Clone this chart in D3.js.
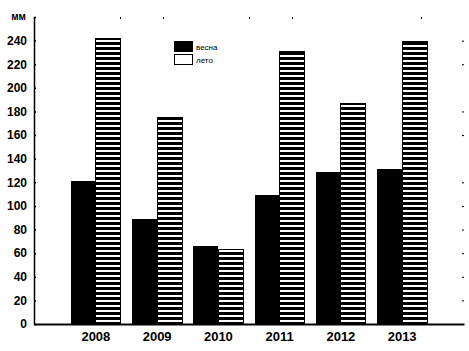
<!DOCTYPE html>
<html>
<head>
<meta charset="utf-8">
<script src="https://cdn.jsdelivr.net/npm/d3@7"></script>
<style>
    body { margin: 0; background: #fff; }
    svg { display: block; font-family: "Liberation Sans", Arial, sans-serif; }
    .axis text { font-weight: bold; fill: #000; }
</style>
</head>
<body>
<svg id="chart"></svg>
<script>
// chart data
const years = ['2008', '2009', '2010', '2011', '2012', '2013'];
const spring = [121, 89, 66, 109, 129, 131];   // весна
const summer = [242, 175, 63, 231, 187, 239];  // лето
const seriesNames = ['весна', 'лето'];
const yTicks = [0, 20, 40, 60, 80, 100, 120, 140, 160, 180, 200, 220, 240];
const yUnit = 'мм';

const config = {
    containerWidth: 469,
    containerHeight: 351,
    margin: {top: 17, right: 5, bottom: 27, left: 34}
};

const width = config.containerWidth - config.margin.left - config.margin.right;
const height = config.containerHeight - config.margin.top - config.margin.bottom;

const svg = d3.select('#chart')
    .attr('width', config.containerWidth)
    .attr('height', config.containerHeight);

// horizontal stripe pattern for the summer bars
const defs = svg.append('defs');
const pat = defs.append('pattern')
    .attr('id', 'stripes')
    .attr('patternUnits', 'userSpaceOnUse')
    .attr('width', 5)
    .attr('height', 5);
pat.append('rect').attr('width', 5).attr('height', 5).attr('fill', '#fff');
pat.append('rect').attr('width', 5).attr('height', 3).attr('fill', '#000');

const chart = svg.append('g')
    .attr('transform', `translate(${config.margin.left},${config.margin.top})`);

// scales
const xScale = d3.scaleBand()
    .domain(years)
    .range([0, width])
    .paddingInner(0.18)
    .paddingOuter(0.6);

const xSub = d3.scaleBand()
    .domain(seriesNames)
    .range([0, xScale.bandwidth()]);

const yScale = d3.scaleLinear()
    .domain([0, 260])
    .range([height, 0]);

const data = years.map((y, i) => ({year: y, values: [spring[i], summer[i]]}));

// bars
const groups = chart.selectAll('.group')
    .data(data)
    .join('g')
    .attr('class', 'group')
    .attr('transform', d => `translate(${xScale(d.year)},0)`);

groups.selectAll('rect')
    .data(d => d.values.map((v, j) => ({key: seriesNames[j], value: v})))
    .join('rect')
    .attr('x', d => xSub(d.key))
    .attr('y', d => yScale(d.value))
    .attr('width', xSub.bandwidth())
    .attr('height', d => height - yScale(d.value))
    .attr('fill', d => d.key === seriesNames[0] ? '#000' : 'url(#stripes)')
    .attr('stroke', d => d.key === seriesNames[0] ? 'none' : '#000')
    .attr('stroke-width', 1)
    .attr('shape-rendering', 'crispEdges');

// left axis
const yAxis = d3.axisLeft(yScale)
    .tickValues(yTicks)
    .tickSizeInner(-2)
    .tickSizeOuter(-2)
    .tickPadding(7);

const yAxisG = chart.append('g')
    .attr('class', 'axis y-axis')
    .call(yAxis);
yAxisG.selectAll('text').style('font-size', '12px');
yAxisG.selectAll('path, line').attr('stroke', '#000').attr('stroke-width', 1.5);

yAxisG.append('text')
    .attr('x', -8)
    .attr('y', 0)
    .attr('dy', '0.32em')
    .attr('text-anchor', 'end')
    .style('font-size', '10px')
    .text(yUnit);

// bottom axis
const xAxis = d3.axisBottom(xScale)
    .tickSize(0)
    .tickPadding(8);

const xAxisG = chart.append('g')
    .attr('class', 'axis x-axis')
    .attr('transform', `translate(0,${height})`)
    .call(xAxis);
xAxisG.selectAll('text').style('font-size', '13px');
xAxisG.select('.domain').attr('stroke', '#000').attr('stroke-width', 2);

// right axis: small tick stubs only
const rAxis = d3.axisRight(yScale)
    .tickValues([0, 20, 40, 60, 80, 100, 120, 160, 180, 220, 240])
    .tickSize(-2)
    .tickFormat('');
const rAxisG = chart.append('g')
    .attr('transform', `translate(${width},0)`)
    .call(rAxis);
rAxisG.select('.domain').remove();
rAxisG.selectAll('line').attr('stroke', '#000').attr('stroke-width', 1);

// top axis: small tick stubs only
const topScale = d3.scaleLinear().domain([0, 10]).range([0, width]);
const tAxis = d3.axisTop(topScale)
    .tickValues([2, 3, 5, 6, 9])
    .tickSize(-2)
    .tickFormat('');
const tAxisG = chart.append('g').call(tAxis);
tAxisG.select('.domain').remove();
tAxisG.selectAll('line').attr('stroke', '#000').attr('stroke-width', 1);

// legend
const legend = chart.append('g')
    .attr('transform', `translate(${174 - config.margin.left},${41 - config.margin.top})`);

const legendItems = legend.selectAll('g')
    .data(seriesNames)
    .join('g')
    .attr('transform', (d, i) => `translate(0,${i * 13})`);

legendItems.append('rect')
    .attr('x', 0.5)
    .attr('y', 0.5)
    .attr('width', 18)
    .attr('height', 10)
    .attr('fill', (d, i) => i === 0 ? '#000' : '#fff')
    .attr('stroke', '#000')
    .attr('shape-rendering', 'crispEdges');

legendItems.append('text')
    .attr('x', 22)
    .attr('y', 6)
    .attr('dy', '0.32em')
    .style('font-size', '8px')
    .text(d => d);
</script>
</body>
</html>
